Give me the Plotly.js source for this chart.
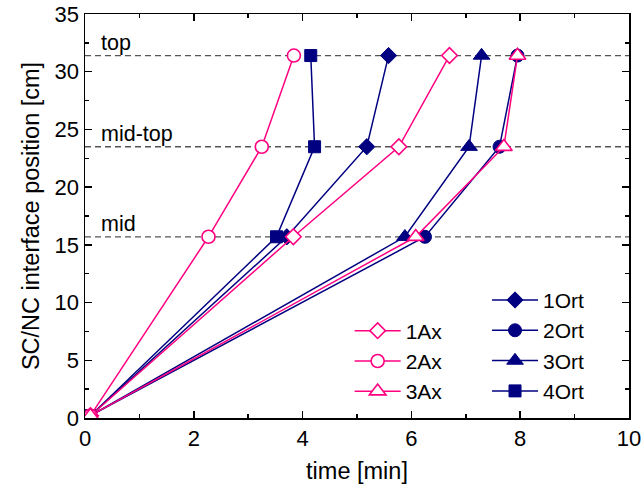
<!DOCTYPE html>
<html>
<head>
<meta charset="utf-8">
<script src="https://cdn.plot.ly/plotly-3.0.1.min.js"></script>
<style>html,body{margin:0;padding:0;background:#fff;}#chart{width:643px;height:493px;}</style>
</head>
<body>
<div id="chart"></div>
<script>
// Reference levels (interface positions, cm)
const levelNames = ['mid', 'mid-top', 'top'];
const levelValues = [15.7, 23.5, 31.4];

// Interface position for each point [cm]
const yPos = [0.2, 15.7, 23.5, 31.4];

// Times [min] for each series
const x1Ax = [0.1, 3.83, 5.77, 6.70];
const x2Ax = [0.1, 2.27, 3.25, 3.84];
const x3Ax = [0.1, 6.08, 7.70, 7.95];
const x1Ort = [0.1, 3.71, 5.18, 5.58];
const x2Ort = [0.1, 6.25, 7.62, 7.95];
const x3Ort = [0.1, 5.88, 7.06, 7.29];
const x4Ort = [0.1, 3.52, 4.22, 4.15];

const xTicks = [0, 2, 4, 6, 8, 10];
const yTicks = [0, 5, 10, 15, 20, 25, 30, 35];

const PINK = '#FF0080';
const NAVY = '#000080';
const FONT = 'Arial, "Liberation Sans", sans-serif';

function ort(name, xs, symbol, size) {
  return {
    type: 'scatter', mode: 'lines+markers', name: name, x: xs, y: yPos,
    legend: 'legend2',
    line: {color: NAVY, width: 1.5},
    marker: {symbol: symbol, size: size, color: NAVY, line: {color: NAVY, width: 1}}
  };
}
function ax(name, xs, symbol, size) {
  return {
    type: 'scatter', mode: 'lines+markers', name: name, x: xs, y: yPos,
    legend: 'legend',
    line: {color: PINK, width: 1.5},
    marker: {symbol: symbol, size: size, color: 'white', line: {color: PINK, width: 1.6}}
  };
}

const data = [
  ort('1Ort', x1Ort, 'diamond', 12.5),
  ort('2Ort', x2Ort, 'circle', 13),
  ort('3Ort', x3Ort, 'triangle-up', 14.5),
  ort('4Ort', x4Ort, 'square', 12),
  ax('1Ax', x1Ax, 'diamond', 12),
  ax('2Ax', x2Ax, 'circle', 13),
  ax('3Ax', x3Ax, 'triangle-up', 14.5)
];

const shapes = levelValues.map(v => ({
  type: 'line', xref: 'paper', x0: 0, x1: 1, yref: 'y', y0: v, y1: v,
  line: {color: '#555', width: 1.3, dash: '6px,4px'}, layer: 'below'
}));

const annotations = levelValues.map((v, i) => ({
  xref: 'paper', x: 0.025, xanchor: 'left',
  yref: 'y', y: v, yanchor: 'bottom', yshift: -1,
  text: levelNames[i], showarrow: false,
  font: {family: FONT, size: 21.5, color: 'black'}
}));

const axisCommon = {
  ticks: 'inside', ticklen: 7, tickwidth: 1.5, tickcolor: 'black',
  showline: true, linewidth: 1.5, linecolor: 'black', mirror: 'ticks',
  showgrid: false, zeroline: false,
  tickfont: {family: FONT, size: 22, color: 'black'}
};

const layout = {
  width: 643, height: 493,
  margin: {l: 85, r: 14, t: 14, b: 75},
  paper_bgcolor: 'white', plot_bgcolor: 'white',
  font: {family: FONT, color: 'black', size: 21},
  xaxis: Object.assign({}, axisCommon, {
    range: [0, 10], tickvals: xTicks, ticktext: xTicks.map(String),
    minor: {dtick: 1, tick0: 0, ticks: 'inside', ticklen: 4, tickwidth: 1.5, tickcolor: 'black', showgrid: false},
    title: {text: 'time [min]', font: {family: FONT, size: 23.5}, standoff: 12}
  }),
  yaxis: Object.assign({}, axisCommon, {
    range: [0, 35], tickvals: yTicks, ticktext: yTicks.map(String),
    minor: {dtick: 2.5, tick0: 0, ticks: 'inside', ticklen: 4, tickwidth: 1.5, tickcolor: 'black', showgrid: false},
    title: {text: 'SC/NC interface position [cm]', font: {family: FONT, size: 23.5}, standoff: 8}
  }),
  shapes: shapes,
  annotations: annotations,
  showlegend: true,
  legend: {x: 0.4865, y: 0.266, xanchor: 'left', yanchor: 'top', bgcolor: 'rgba(0,0,0,0)',
           font: {family: FONT, size: 21}, itemwidth: 46, tracegroupgap: 0},
  legend2: {x: 0.739, y: 0.342, xanchor: 'left', yanchor: 'top', bgcolor: 'rgba(0,0,0,0)',
            font: {family: FONT, size: 21}, itemwidth: 46, tracegroupgap: 0}
};

Plotly.newPlot('chart', data, layout, {displayModeBar: false, staticPlot: true});
</script>
</body>
</html>
